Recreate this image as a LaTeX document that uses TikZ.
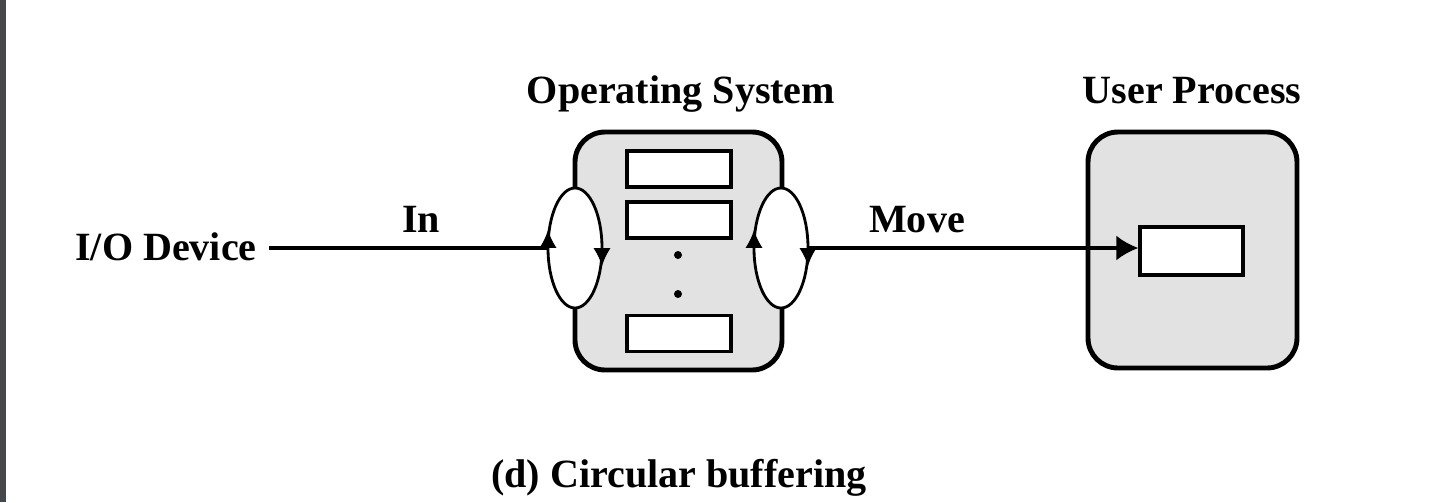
\documentclass[tikz,border=0pt]{standalone}
\usepackage{fontspec}
\setmainfont{Liberation Serif}
\usetikzlibrary{shapes.geometric,decorations.markings,arrows.meta}
\definecolor{boxgray}{HTML}{E2E2E2}
\definecolor{edgebar}{HTML}{44484B}

\begin{document}
\begin{tikzpicture}[x=1cm,y=-1cm,
        every node/.style={font=\fontsize{11.4}{13}\selectfont\bfseries},
        pbox/.style={draw,line width=1.4pt,fill=boxgray,rounded corners=0.3cm,inner sep=0pt},
        slot/.style={draw,line width=0.9pt,fill=white,minimum width=1.04cm,minimum height=0.36cm,inner sep=0pt},
        ring/.style={draw,ellipse,line width=0.8pt,fill=white,minimum width=0.54cm,minimum height=1.2cm,inner sep=0pt,
            postaction={decorate,decoration={markings,
                mark=at position 0 with {\arrow{Latex[reversed,length=5.2pt,width=5pt]}},
                mark=at position 0.5 with {\arrow{Latex[reversed,length=5.2pt,width=5pt]}}}}},
        flow/.style={line width=0.9pt}]
    \useasboundingbox (0,0) rectangle (14.4,5.02);
    \fill[edgebar] (0,0) rectangle (0.06,5.02);
    \node[pbox,minimum width=2.07cm,minimum height=2.38cm] (os) at (6.785,2.51) {};
    \node[ring] (inring) at (5.75,2.48) {};
    \node[ring] (outring) at (7.81,2.48) {};
    \node[slot] (slota) at (6.79,1.69) {};
    \node[slot] (slotb) at (6.79,2.20) {};
    \node[slot] (slotn) at (6.79,3.335) {};
    \fill (6.78,2.55) circle (0.04);
    \fill (6.78,2.94) circle (0.04);
    \node[pbox,minimum width=2.09cm,minimum height=2.36cm] (user) at (11.925,2.50) {};
    \node[slot,minimum width=1.03cm,minimum height=0.48cm] (ubuf) at (11.915,2.51) {};
    \node[anchor=base] (osname) at (6.81,1.03) {Operating System};
    \node[anchor=base] (username) at (11.92,1.03) {User Process};
    \node[anchor=base] (iodev) at (1.66,2.60) {I/O Device};
    \node[anchor=base] (inlbl) at (4.21,2.32) {In};
    \node[anchor=base] (movelbl) at (9.17,2.32) {Move};
    \node[anchor=base] (caption) at (6.79,4.87) {(d) Circular buffering};
    \draw[flow] (iodev.east |- inring.west) -- (inring.west);
    \draw[flow,-{Latex[length=0.22cm,width=0.25cm]}] (outring.east) -- (outring.east -| ubuf.west);
\end{tikzpicture}
\end{document}
